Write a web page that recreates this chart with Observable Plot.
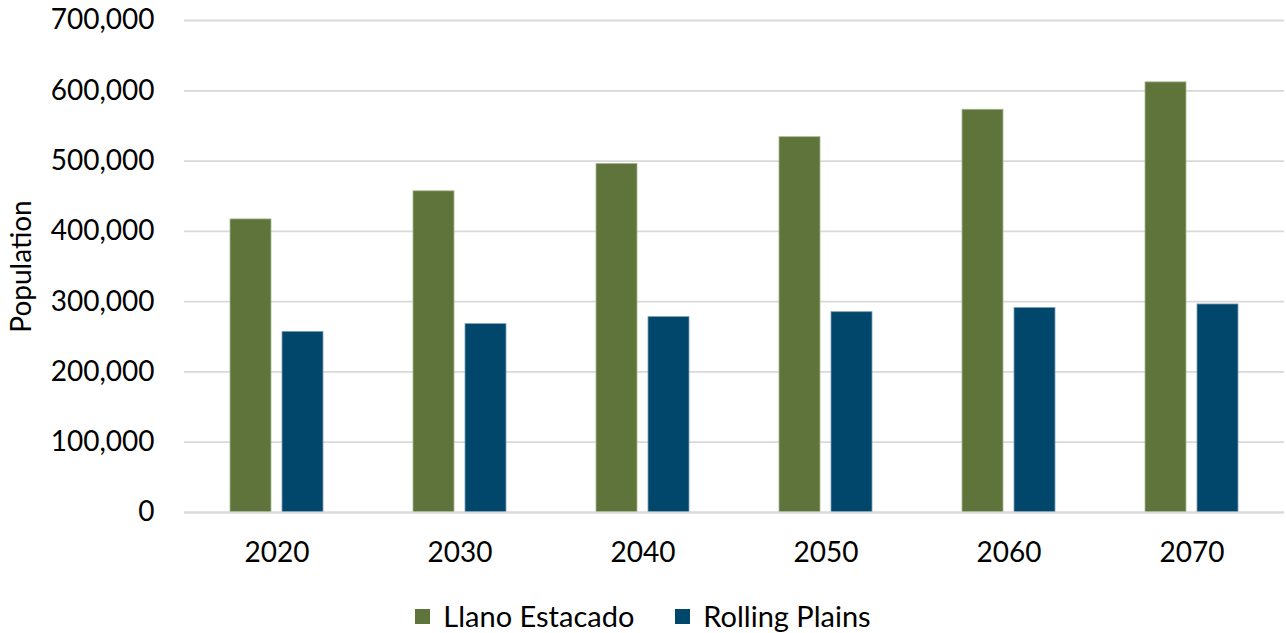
<!DOCTYPE html>
<html>
<head>
<meta charset="utf-8">
<script src="https://cdn.jsdelivr.net/npm/d3@7"></script>
<script src="https://cdn.jsdelivr.net/npm/@observablehq/plot@0.6"></script>
<style>
  html, body { margin: 0; padding: 0; background: #fff; }
  body { font-family: Lato, "Open Sans", sans-serif; color: #000; width: 1286px; }
  #legend { display: flex; justify-content: center; align-items: center; gap: 41px; padding-top: 20px; font-size: 29px; line-height: 32px; }
  .item { display: flex; align-items: center; gap: 13px; }
  .sw { width: 15px; height: 15px; display: inline-block; }
</style>
</head>
<body>
<div id="chart"></div>
<div id="legend"></div>
<script>
const years = ["2020", "2030", "2040", "2050", "2060", "2070"];
const llanoEstacado = [417000, 457000, 496000, 534000, 573000, 612000];
const rollingPlains = [257000, 268000, 278000, 285000, 291000, 296000];
const seriesNames = ["Llano Estacado", "Rolling Plains"];
const seriesColors = ["#5e743b", "#00476b"];
const yTicks = [0, 100000, 200000, 300000, 400000, 500000, 600000, 700000];

const llanoData = years.map((y, i) => ({year: y, series: seriesNames[0], value: llanoEstacado[i]}));
const rollingData = years.map((y, i) => ({year: y, series: seriesNames[1], value: rollingPlains[i]}));

const chart = Plot.plot({
  width: 1286,
  height: 580,
  marginTop: 20,
  marginBottom: 68,
  marginLeft: 184,
  marginRight: 2,
  style: {fontFamily: "Lato, 'Open Sans', sans-serif", fontSize: "28px", color: "#000", background: "#fff"},
  x: {domain: years, paddingInner: 0.777, paddingOuter: 0.3885, label: null},
  y: {domain: [0, 700000], ticks: yTicks, label: null},
  color: {domain: seriesNames, range: seriesColors},
  marks: [
    Plot.gridY(yTicks, {stroke: "#d9d9d9", strokeOpacity: 1, strokeWidth: 1.8}),
    Plot.barY(llanoData, {x: "year", y: "value", fill: "series", dx: -26, stroke: "#a9b98f", strokeWidth: 0.8}),
    Plot.barY(rollingData, {x: "year", y: "value", fill: "series", dx: 26, stroke: "#7d9fb3", strokeWidth: 0.8}),
    Plot.ruleY([0], {stroke: "#d9d9d9", strokeWidth: 1.8}),
    Plot.axisY({ticks: yTicks, tickSize: 0, tickPadding: 30, tickFormat: d3.format(","), label: null, fontSize: 28}),
    Plot.axisX({tickSize: 0, tickPadding: 30, label: null, fontSize: 28}),
    Plot.text(["Population"], {frameAnchor: "left", textAnchor: "middle", rotate: -90, dx: -162, fontSize: 28, fill: "#000"})
  ]
});
document.getElementById("chart").appendChild(chart);

const legend = document.getElementById("legend");
seriesNames.forEach((name, i) => {
  const item = document.createElement("div");
  item.className = "item";
  const sw = document.createElement("span");
  sw.className = "sw";
  sw.style.background = seriesColors[i];
  const label = document.createElement("span");
  label.textContent = name;
  item.appendChild(sw);
  item.appendChild(label);
  legend.appendChild(item);
});
</script>
</body>
</html>
